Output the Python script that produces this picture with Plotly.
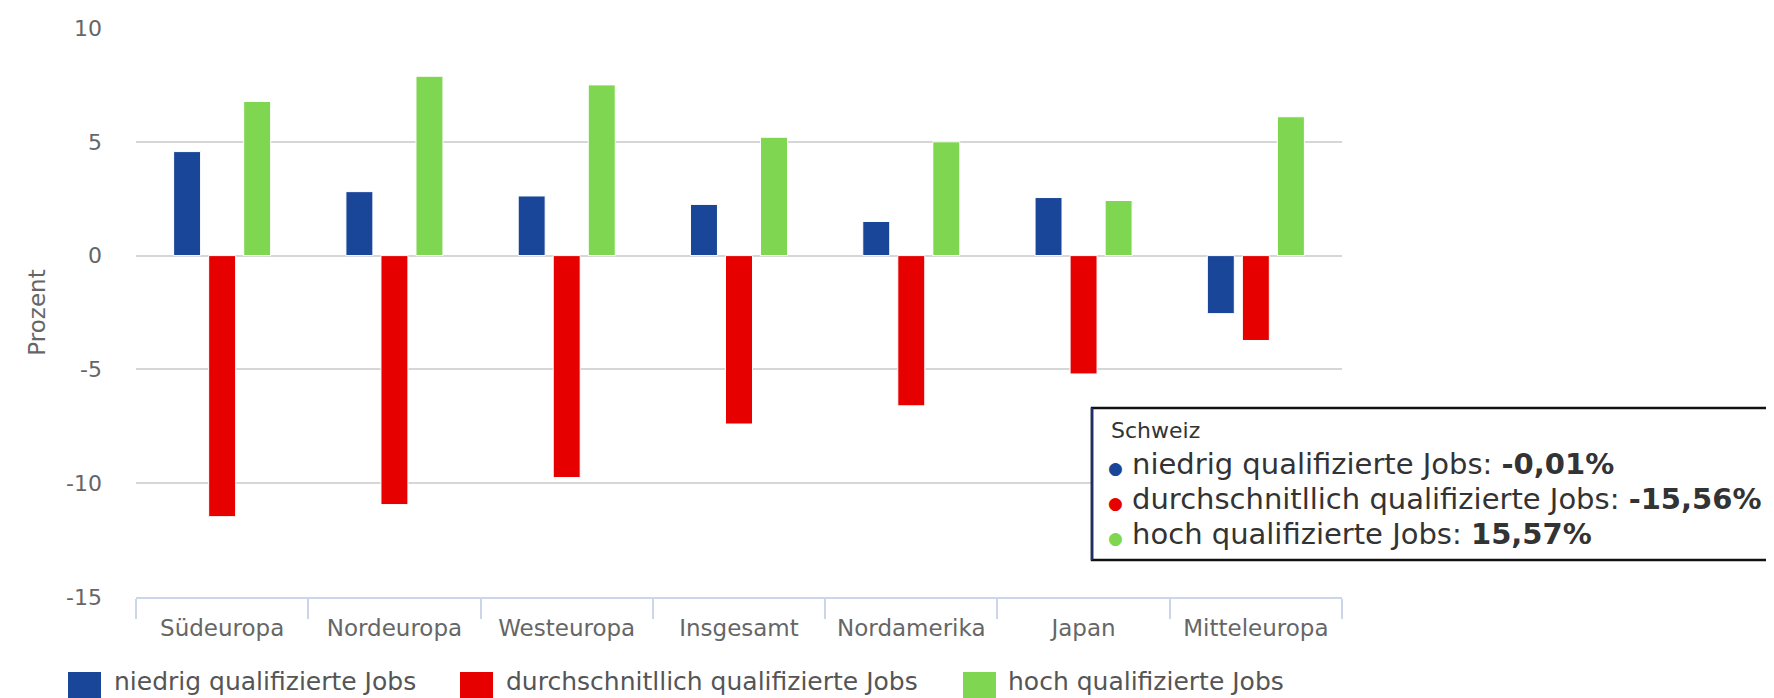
import plotly.graph_objects as go

# ---------------- data ----------------
regions = ["Südeuropa", "Nordeuropa", "Westeuropa", "Insgesamt",
           "Nordamerika", "Japan", "Mitteleuropa"]
series_names = ["niedrig qualifizierte Jobs",
                "durchschnitllich qualifizierte Jobs",
                "hoch qualifizierte Jobs"]
niedrig = [4.57, 2.81, 2.62, 2.25, 1.5, 2.55, -2.55]
durchschnitt = [-11.47, -10.94, -9.75, -7.4, -6.6, -5.2, -3.73]
hoch = [6.77, 7.88, 7.5, 5.2, 5.0, 2.42, 6.1]
y_ticks = [-15, -10, -5, 0, 5, 10]
y_tick_labels = ["-15", "-10", "-5", "0", "5", "10"]
y_title = "Prozent"

tooltip_header = "Schweiz"
tooltip_values = ["-0,01%", "-15,56%", "15,57%"]

colors = ["#1a4699", "#e60000", "#7fd650"]

# ---------------- layout geometry ----------------
W, H = 1774, 698
L, R, T, B = 128, 1334, 20, 589
FONT = "DejaVu Sans"


def px_x(x):
    return (x - L) / (R - L)


def px_y(y):
    return (B - y) / (B - T)


fig = go.Figure()
for name, vals, col in zip(series_names, [niedrig, durchschnitt, hoch], colors):
    fig.add_trace(go.Bar(
        x=regions, y=vals, name=name,
        marker=dict(color=col, line=dict(color="#ffffff", width=1)),
        showlegend=False,
    ))

shapes = []
annotations = []

# custom legend (large square symbols like the original)
legend_items = [(60, 104), (452, 496), (955, 998)]
for (sx, tx), name, col in zip(legend_items, series_names, colors):
    shapes.append(dict(type="rect", xref="paper", yref="paper",
                       x0=px_x(sx), x1=px_x(sx + 33), y0=px_y(664), y1=px_y(697),
                       fillcolor=col, line=dict(width=0), layer="above"))
    annotations.append(dict(xref="paper", yref="paper", x=px_x(tx), y=px_y(673),
                            xanchor="left", yanchor="middle", showarrow=False,
                            text=name, font=dict(family=FONT, size=25, color="#555555")))

# tooltip box (cut off at the right edge, as in the original)
shapes.append(dict(type="rect", xref="paper", yref="paper",
                   x0=px_x(1084), x1=px_x(1900), y0=px_y(552), y1=px_y(400),
                   fillcolor="#ffffff", line=dict(color="#111111", width=2.5),
                   layer="above"))
shapes.append(dict(type="line", xref="paper", yref="paper",
                   x0=px_x(1084), x1=px_x(1084), y0=px_y(552), y1=px_y(400),
                   line=dict(color="#1c2f6b", width=2.5), layer="above"))
annotations.append(dict(xref="paper", yref="paper", x=px_x(1101), y=px_y(422),
                        xanchor="left", yanchor="middle", showarrow=False,
                        text=tooltip_header,
                        font=dict(family=FONT, size=22, color="#333333")))
line_y = [456, 491, 526]
for name, val, col, ly in zip(series_names, tooltip_values, colors, line_y):
    annotations.append(dict(
        xref="paper", yref="paper", x=px_x(1098), y=px_y(ly),
        xanchor="left", yanchor="middle", showarrow=False,
        text=(f'<span style="color:{col};font-size:17px">●</span> '
              f'{name}: <b>{val}</b>'),
        font=dict(family=FONT, size=29, color="#333333")))

fig.update_layout(
    width=W, height=H,
    margin=dict(l=L, r=W - R, t=T, b=H - B, autoexpand=False),
    paper_bgcolor="#ffffff", plot_bgcolor="#ffffff",
    barmode="group", bargap=0.39, bargroupgap=0.23,
    font=dict(family=FONT, color="#666666"),
    shapes=shapes, annotations=annotations,
    xaxis=dict(
        type="category", showgrid=False, showline=True,
        linecolor="#ccd6eb", linewidth=1.5,
        ticks="outside", tickson="boundaries", ticklen=20,
        tickcolor="#ccd6eb", tickwidth=1.5, ticklabelstandoff=10,
        tickfont=dict(family=FONT, size=23, color="#666666"),
        automargin=False,
    ),
    yaxis=dict(
        range=[-15, 10], tickvals=y_ticks, ticktext=y_tick_labels,
        showgrid=True, gridcolor="#d6d6d6", gridwidth=1.5, zeroline=False,
        showline=False, ticks="", ticklabelstandoff=33,
        tickfont=dict(family=FONT, size=22, color="#666666"),
        title=dict(text=y_title, standoff=14,
                   font=dict(family=FONT, size=23, color="#666666")),
        automargin=False,
    ),
)

fig.write_html("out.html")
